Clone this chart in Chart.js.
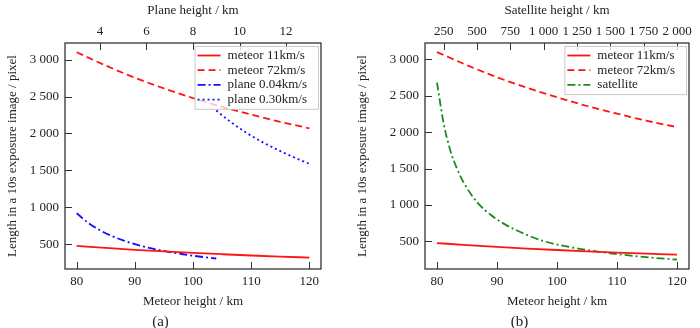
<!DOCTYPE html>
<html>
<head>
<meta charset="utf-8">
<script src="https://cdn.jsdelivr.net/npm/chart.js@4.4.1/dist/chart.umd.min.js"></script>
<style>
  html, body { margin: 0; padding: 0; background: #fff; }
  #wrap { position: relative; width: 700px; height: 328px; }
  .panel { position: absolute; top: 0; width: 350px; height: 328px; }
</style>
</head>
<body>
<div id="wrap">
  <div class="panel" style="left:0"><canvas id="chartA"></canvas></div>
  <div class="panel" style="left:350px"><canvas id="chartB"></canvas></div>
</div>
<script>
// meteor height (km) on bottom axis, shared by both panels
const meteorHeights = [80, 85, 90, 95, 100, 105, 110, 115, 120];
const meteor11 = [478, 450, 425, 403, 383, 365, 348, 333, 319];
const meteor72 = [3100, 2920, 2755, 2610, 2480, 2360, 2255, 2157, 2070];

// plane height (km) on the top axis of panel (a)
const plane04Heights = [3, 3.5, 4, 4.5, 5, 5.5, 6, 6.5, 7, 7.5, 8, 8.5, 9];
const plane04 = [920, 790, 690, 613, 552, 502, 460, 425, 394, 368, 345, 325, 307];
const plane30Heights = [9, 9.5, 10, 10.5, 11, 11.5, 12, 12.5, 13];
const plane30 = [2310, 2185, 2070, 1970, 1880, 1800, 1725, 1655, 1590];

// satellite height (km) on the top axis of panel (b)
const satHeights = [200, 250, 300, 350, 400, 500, 600, 700, 800, 1000, 1250, 1500, 1750, 2000];
const satellite = [2680, 2120, 1750, 1500, 1310, 1040, 870, 745, 650, 505, 405, 338, 288, 250];

const yTicks = [500, 1000, 1500, 2000, 2500, 3000];
const meteorTicks = [80, 90, 100, 110, 120];
const planeTicks = [4, 6, 8, 10, 12];
const satTicks = [250, 500, 750, 1000, 1250, 1500, 1750, 2000];

const SERIF = "'Liberation Serif', 'DejaVu Serif', serif";
const RED = "#ff1414";
const BLUE = "#1010ff";
const GREEN = "#1a8a1a";

function fmt(v) {
  if (v >= 1000) {
    const r = v % 1000;
    return Math.floor(v / 1000) + " " + String(r).padStart(3, "0");
  }
  return String(v);
}

function pts(xs, ys) {
  return xs.map((x, i) => ({ x: x, y: ys[i] }));
}

function useTicks(list) {
  return function (scale) {
    scale.ticks = list.map((v) => ({ value: v }));
  };
}

// frame, inward tick marks and a boxed legend inside the plot
const framePlugin = {
  id: "frame",
  afterDatasetsDraw(chart) {
    const ctx = chart.ctx;
    const a = chart.chartArea;
    ctx.save();
    ctx.strokeStyle = "#333";
    ctx.lineWidth = 1;
    ctx.beginPath();
    ["x", "top", "y"].forEach((id) => {
      const s = chart.scales[id];
      s.ticks.forEach((t) => {
        const p = Math.round(s.getPixelForValue(t.value)) + 0.5;
        if (id === "x") { ctx.moveTo(p, a.bottom); ctx.lineTo(p, a.bottom - 7); }
        if (id === "top") { ctx.moveTo(p, a.top); ctx.lineTo(p, a.top + 7); }
        if (id === "y") { ctx.moveTo(a.left, p); ctx.lineTo(a.left + 7, p); }
      });
    });
    ctx.stroke();
    ctx.lineWidth = 1.3;
    ctx.strokeRect(a.left, a.top, a.right - a.left, a.bottom - a.top);

    // legend
    const sets = chart.data.datasets;
    ctx.font = "13px " + SERIF;
    let maxW = 0;
    sets.forEach((d) => { maxW = Math.max(maxW, ctx.measureText(d.label).width); });
    const rowH = 14.7;
    const w = maxW + 44;
    const h = sets.length * rowH + 4;
    const x0 = a.right - w - 3;
    const y0 = a.top + 3;
    ctx.fillStyle = "rgba(255,255,255,0.75)";
    ctx.fillRect(x0, y0, w, h);
    ctx.strokeStyle = "#c8c8c8";
    ctx.lineWidth = 1;
    ctx.strokeRect(x0 + 0.5, y0 + 0.5, w, h);
    sets.forEach((d, i) => {
      const yy = y0 + 9.5 + i * rowH;
      ctx.strokeStyle = d.borderColor;
      ctx.lineWidth = d.borderWidth;
      ctx.setLineDash(d.borderDash || []);
      ctx.beginPath();
      ctx.moveTo(x0 + 3, yy);
      ctx.lineTo(x0 + 26, yy);
      ctx.stroke();
      ctx.setLineDash([]);
      ctx.fillStyle = "#222";
      ctx.textBaseline = "middle";
      ctx.textAlign = "left";
      ctx.fillText(d.label, x0 + 33, yy);
    });
    ctx.restore();
  },
};

function line(label, data, color, dash, axis) {
  return {
    label: label,
    data: data,
    xAxisID: axis || "x",
    borderColor: color,
    borderWidth: 1.8,
    borderDash: dash,
    pointRadius: 0,
    fill: false,
    cubicInterpolationMode: "monotone",
  };
}

const noGrid = { display: false, drawTicks: false, tickLength: 0 };

function makeChart(id, datasets, topCfg, caption, yWidth, padRight) {
  const tickFont = { family: SERIF, size: 13 };
  const titleFont = { family: SERIF, size: 13, lineHeight: 1 };
  new Chart(document.getElementById(id), {
    type: "line",
    data: { datasets: datasets },
    options: {
      responsive: true,
      maintainAspectRatio: false,
      animation: false,
      layout: { padding: { left: 0, right: padRight, top: 0, bottom: 0 } },
      scales: {
        x: {
          type: "linear",
          position: "bottom",
          min: 78,
          max: 122,
          afterBuildTicks: useTicks(meteorTicks),
          afterFit: (s) => { s.height = 42; },
          grid: noGrid,
          border: { display: false },
          ticks: { font: tickFont, color: "#222", padding: 5, maxRotation: 0, callback: fmt },
          title: { display: true, text: "Meteor height / km", font: titleFont, color: "#222", padding: { top: 0, bottom: 2.5 } },
        },
        top: {
          type: "linear",
          position: "top",
          min: topCfg.min,
          max: topCfg.max,
          afterBuildTicks: useTicks(topCfg.ticks),
          afterFit: (s) => { s.height = 43; },
          grid: noGrid,
          border: { display: false },
          ticks: { font: tickFont, color: "#222", padding: 4, maxRotation: 0, callback: fmt },
          title: { display: true, text: topCfg.title, font: titleFont, color: "#222", padding: { top: 4, bottom: 0 } },
        },
        y: {
          type: "linear",
          position: "left",
          min: topCfg.ymin,
          max: 3225,
          afterBuildTicks: useTicks(yTicks),
          afterFit: (s) => { s.width = yWidth; },
          grid: noGrid,
          border: { display: false },
          ticks: { font: tickFont, color: "#222", padding: 6, callback: fmt },
          title: {
            display: true,
            text: "Length in a 10s exposure image / pixel",
            font: titleFont,
            color: "#222",
            padding: { top: 6, bottom: 0 },
          },
        },
      },
      plugins: {
        legend: { display: false },
        tooltip: { enabled: false },
        title: {
          display: true,
          position: "bottom",
          text: caption,
          color: "#222",
          font: { family: SERIF, size: 15, weight: "normal", lineHeight: 0.8 },
          padding: { top: 5, bottom: 0 },
        },
      },
    },
    plugins: [framePlugin],
  });
}

makeChart(
  "chartA",
  [
    line("meteor 11km/s", pts(meteorHeights, meteor11), RED, []),
    line("meteor 72km/s", pts(meteorHeights, meteor72), RED, [7, 4]),
    line("plane 0.04km/s", pts(plane04Heights, plane04), BLUE, [8, 3, 2, 3], "top"),
    line("plane 0.30km/s", pts(plane30Heights, plane30), BLUE, [2, 3], "top"),
  ],
  { min: 2.5, max: 13.5, ticks: planeTicks, title: "Plane height / km", ymin: 165 },
  "(a)",
  65,
  29
);

makeChart(
  "chartB",
  [
    line("meteor 11km/s", pts(meteorHeights, meteor11), RED, []),
    line("meteor 72km/s", pts(meteorHeights, meteor72), RED, [7, 4]),
    line("satellite", pts(satHeights, satellite), GREEN, [8, 3, 2, 3], "top"),
  ],
  { min: 110, max: 2090, ticks: satTicks, title: "Satellite height / km", ymin: 122 },
  "(b)",
  75,
  11
);
</script>
</body>
</html>
